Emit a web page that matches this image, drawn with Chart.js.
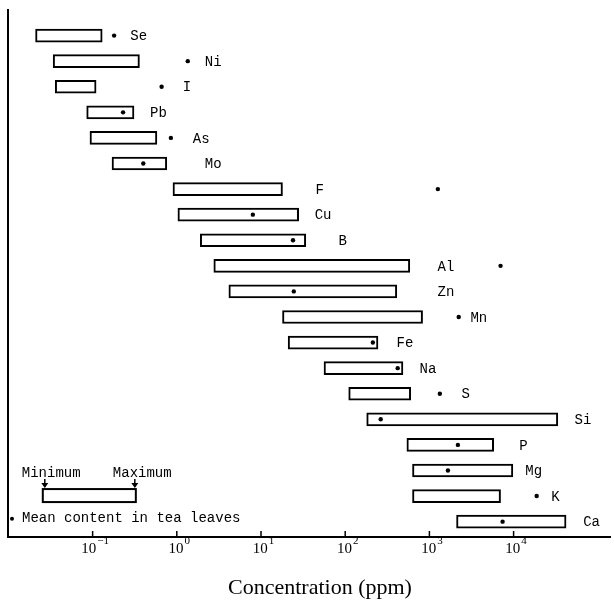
<!DOCTYPE html>
<html>
<head>
<meta charset="utf-8">
<script src="https://cdn.jsdelivr.net/npm/chart.js@4.4.1/dist/chart.umd.min.js"></script>
<style>
  html, body { margin: 0; background: #fff; }
  #wrap { width: 614px; height: 605px; }
</style>
</head>
<body>
<div id="wrap"><canvas id="chart"></canvas></div>
<script>
// element order, top to bottom
const elements = ["Se", "Ni", "I", "Pb", "As", "Mo", "F", "Cu", "B", "Al",
                  "Zn", "Mn", "Fe", "Na", "S", "Si", "P", "Mg", "K", "Ca"];
// range (ppm)
const minPpm = [0.021, 0.034, 0.036, 0.085, 0.093, 0.17, 0.9, 1.03, 1.9, 2.75,
                4.15, 18, 21, 56, 110, 180, 540, 630, 630, 2100];
const maxPpm = [0.13, 0.36, 0.11, 0.31, 0.58, 0.76, 18, 28, 34, 585,
                410, 830, 245, 485, 600, 33500, 5800, 9800, 7000, 42000];
// mean content in tea leaves (ppm)
const meanTea = [0.18, 1.35, 0.66, 0.23, 0.85, 0.4, 1260, 8, 24, 7000,
                 24.5, 2230, 213, 420, 1330, 264, 2180, 1660, 18800, 7400];
// where each element name starts (ppm)
const labelAt = [0.28, 2.15, 1.18, 0.48, 1.55, 2.15, 44.5, 43.4, 83.5, 1250,
                 1250, 3070, 407, 764, 2400, 53000, 11700, 13800, 28000, 67000];
const decades = [-1, 0, 1, 2, 3, 4];
// legend sample box (ppm), drawn in the K row
const legendRange = [0.0256, 0.326];

const mono = "'Liberation Mono', 'DejaVu Sans Mono', monospace";
const serif = "'Liberation Serif', 'DejaVu Serif', serif";

const rangeData = elements.map((el, i) => ({ x: [minPpm[i], maxPpm[i]], y: i }));
const meanData = elements.map((el, i) => ({ x: meanTea[i], y: i }));

// ========== labels, ticks, legend, title ==========
const extras = {
  id: "extras",
  afterDraw(chart) {
    const ctx = chart.ctx;
    const xs = chart.scales.x, ys = chart.scales.y;
    const bottom = chart.chartArea.bottom;
    ctx.save();
    ctx.fillStyle = "#000";
    ctx.strokeStyle = "#000";

    // element names
    ctx.font = "14px " + mono;
    ctx.textBaseline = "middle";
    ctx.textAlign = "left";
    elements.forEach((el, i) => {
      ctx.fillText(el, xs.getPixelForValue(labelAt[i]), ys.getPixelForValue(i) + 1);
    });

    // decade ticks and labels
    ctx.lineWidth = 1.5;
    decades.forEach(d => {
      const x = xs.getPixelForValue(Math.pow(10, d));
      ctx.beginPath();
      ctx.moveTo(x, bottom);
      ctx.lineTo(x, bottom - 6);
      ctx.stroke();
      const base = "10", sup = String(d).replace("-", "\u2212");
      ctx.font = "15px " + serif;
      const wb = ctx.measureText(base).width;
      ctx.font = "11px " + serif;
      const ws = ctx.measureText(sup).width;
      const x0 = x - (wb + ws) / 2 + 2;
      ctx.font = "15px " + serif;
      ctx.fillText(base, x0, bottom + 12);
      ctx.font = "11px " + serif;
      ctx.fillText(sup, x0 + wb + 1, bottom + 4);
    });

    // axis title
    ctx.textAlign = "center";
    ctx.font = "22px " + serif;
    ctx.fillText("Concentration (ppm)", 320, 588);
    ctx.textAlign = "left";

    // legend
    const lx0 = xs.getPixelForValue(legendRange[0]);
    const lx1 = xs.getPixelForValue(legendRange[1]);
    const ly = ys.getPixelForValue(18);
    ctx.lineWidth = 2;
    ctx.fillStyle = "#fff";
    ctx.fillRect(lx0, ly - 7, lx1 - lx0, 13);
    ctx.strokeRect(lx0, ly - 7, lx1 - lx0, 13);
    ctx.fillStyle = "#000";
    ctx.font = "14px " + mono;
    ctx.fillText("Minimum", lx0 - 21, ly - 23);
    ctx.fillText("Maximum", lx1 - 23, ly - 23);
    [lx0 + 2, lx1 - 1].forEach(ax => {
      ctx.lineWidth = 1.5;
      ctx.beginPath();
      ctx.moveTo(ax, ly - 17);
      ctx.lineTo(ax, ly - 9);
      ctx.stroke();
      ctx.beginPath();
      ctx.moveTo(ax - 3.5, ly - 13);
      ctx.lineTo(ax, ly - 8);
      ctx.lineTo(ax + 3.5, ly - 13);
      ctx.closePath();
      ctx.fill();
    });
    const my = ys.getPixelForValue(18.85);
    ctx.beginPath();
    ctx.arc(chart.chartArea.left + 4, my + 1, 2, 0, Math.PI * 2);
    ctx.fill();
    ctx.fillText("Mean content in tea leaves", chart.chartArea.left + 14, my);
    ctx.restore();
  }
};

// ================= CHART =================
new Chart(document.getElementById("chart").getContext("2d"), {
  type: "bar",
  data: {
    datasets: [
      {
        type: "scatter",
        data: meanData,
        pointRadius: 2.2,
        pointBackgroundColor: "#000",
        pointBorderWidth: 0,
        order: 0
      },
      {
        data: rangeData,
        backgroundColor: "#fff",
        borderColor: "#000",
        borderWidth: 2,
        borderSkipped: false,
        barThickness: 13,
        order: 1
      }
    ]
  },
  plugins: [extras],
  options: {
    indexAxis: "y",
    responsive: true,
    maintainAspectRatio: false,
    animation: false,
    layout: { padding: { left: 8, top: 10, right: 0, bottom: 68 } },
    plugins: {
      legend: { display: false },
      tooltip: { enabled: false }
    },
    scales: {
      x: {
        type: "logarithmic",
        min: Math.pow(10, -2.005),
        max: Math.pow(10, 5.145),
        grid: { display: false, drawTicks: false },
        ticks: { display: false },
        border: { display: true, color: "#000", width: 2 }
      },
      y: {
        type: "linear",
        reverse: true,
        offset: false,
        min: -1,
        max: 19.6,
        grid: { display: false, drawTicks: false },
        ticks: { display: false },
        border: { display: true, color: "#000", width: 2 }
      }
    }
  }
});
</script>
</body>
</html>
